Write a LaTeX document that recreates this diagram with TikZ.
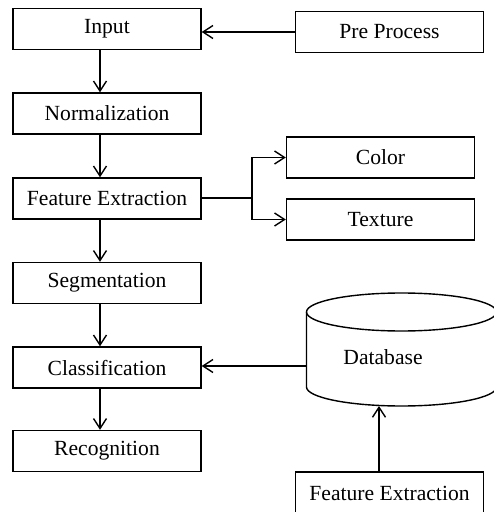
\documentclass[tikz,border=0pt]{standalone}
\usepackage{fontspec}
\setmainfont{Liberation Serif}
\usepackage{tikz}
\usetikzlibrary{positioning, arrows.meta}

\tikzset{
  caja/.style={shape=rectangle, draw=black, line width=0.7pt, inner sep=0pt,
    minimum width=94pt, minimum height=20.5pt, font=\fontsize{10.8}{13}\selectfont},
  flecha/.style={line width=0.7pt, -{Straight Barb[length=5pt, width=6.5pt]}}
}

\begin{document}
\begin{tikzpicture}[x=0.5pt, y=-0.5pt]

	\useasboundingbox (0,0) rectangle (493,512);

	% Etapas principales
	\node[caja] (Input) at (107,29) {Input};
	\node[caja] (Normalization) at (107,113.5) {Normalization};
	\node[caja] (FeatExt) at (107,198.5) {Feature Extraction};
	\node[caja] (Segmentation) at (107,283) {Segmentation};
	\node[caja] (Classification) at (107,367.5) {Classification};
	\node[caja] (Recognition) at (107,451) {Recognition};

	% Cajas de la derecha
	\node[caja] (PreProcess) at (389.5,32) {Pre Process};
	\node[caja] (Color) at (380.5,157.5) {Color};
	\node[caja] (Texture) at (380.5,219.5) {Texture};
	\node[caja, minimum height=21pt] (FeatDB) at (389.5,493) {Feature Extraction};

	% Base de datos
	\draw[line width=0.7pt] (401.5,312) ellipse [x radius=47.5pt, y radius=9.5pt];
	\draw[line width=0.7pt] (306.5,312) -- (306.5,387)
		arc [start angle=180, end angle=360, x radius=47.5pt, y radius=9.5pt] -- (496.5,312);
	\node[font=\fontsize{10.8}{13}\selectfont] (Database) at (383,357) {Database};
	\coordinate (DBleft) at (306.5,366);
	\coordinate (DBbottom) at (379,406);
	\coordinate (Branch) at (252,198);

	% Flechas entre etapas
	\foreach \a/\b in {Input/Normalization, Normalization/FeatExt, FeatExt/Segmentation,
		Segmentation/Classification, Classification/Recognition} {
		\draw[flecha] ([xshift=-3.5pt]\a.south) -- ([xshift=-3.5pt]\b.north);
	}

	% Otras conexiones
	\draw[flecha] (PreProcess.west) -- (PreProcess.west -| Input.east);
	\draw[line width=0.7pt] (FeatExt.east |- Branch) -- (Branch);
	\draw[flecha] (Branch) |- (Color.west);
	\draw[flecha] (Branch) |- (Texture.west);
	\draw[flecha] (DBleft) -- (DBleft -| Classification.east);
	\draw[flecha] (FeatDB.north -| DBbottom) -- (DBbottom);

\end{tikzpicture}
\end{document}
